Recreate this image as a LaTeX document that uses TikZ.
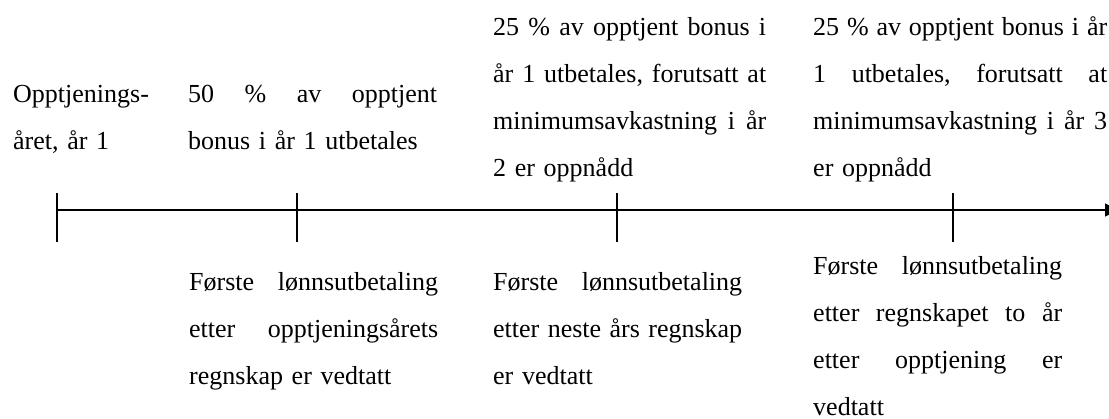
\documentclass[tikz,border=0pt]{standalone}
\usepackage{fontspec}
\setmainfont{Liberation Serif}
\usetikzlibrary{arrows.meta,positioning}
\setlength{\parindent}{0pt}
% justified line: all spaces stretch evenly to the block width
\newcommand{\jline}[1]{\leavevmode\hbox to \hsize{\spaceskip=.15em plus 1fil\relax #1}}

\begin{document}
\begin{tikzpicture}[
    x=1pt, y=-1pt,
    txt/.style={anchor=base west, inner sep=0pt, align=left, text width=#1,
        font=\fontsize{26}{47}\selectfont\frenchspacing},
    txt/.default=249pt,
    tickline/.style={line width=1.6pt},
    axis/.style={line width=1.6pt, -{Triangle[length=13pt,width=13pt]}}]

    \useasboundingbox (0,0) rectangle (1109,419);
    \clip (0,0) rectangle (1109,419);

    % Points on the time line
    \coordinate (start) at (57,210);
    \coordinate (t1) at (297,210);
    \coordinate (t2) at (617,210);
    \coordinate (t3) at (953,210);
    \coordinate (end) at (1118,210);

    % Time line with ticks
    \draw [axis] (start) -- (end);
    \foreach \p in {start,t1,t2,t3}
        \draw [tickline] ([yshift=17pt]\p) -- ([yshift=-32pt]\p);

    % Texts above the line
    \node [txt=170pt] (earn) at (13,103) {Opptjenings-\\året, år 1};
    \node [txt] (pay1) at (188,103) {\jline{50 \% av opptjent}\\
                                     bonus i år 1 utbetales};
    \node [txt=273pt] (pay2) at (493,36) {\jline{25 \% av opptjent bonus i}\\
                                          \jline{år 1 utbetales, forutsatt at}\\
                                          \jline{minimumsavkastning i år}\\
                                          2 er oppnådd};
    \node [txt=294pt] (pay3) at (813,36) {\jline{25 \% av opptjent bonus i år}\\
                                          \jline{1 utbetales, forutsatt at}\\
                                          \jline{minimumsavkastning i år 3}\\
                                          er oppnådd};

    % Texts below the line
    \node [txt] (when1) at (189,291) {\jline{Første lønnsutbetaling}\\
                                      \jline{etter opptjeningsårets}\\
                                      regnskap er vedtatt};
    \node [txt] (when2) at (493,291) {\jline{Første lønnsutbetaling}\\
                                      \jline{etter neste års regnskap}\\
                                      er vedtatt};
    \node [txt] (when3) at (813,275) {\jline{Første lønnsutbetaling}\\
                                      \jline{etter regnskapet to år}\\
                                      \jline{etter opptjening er}\\
                                      vedtatt};
\end{tikzpicture}
\end{document}
